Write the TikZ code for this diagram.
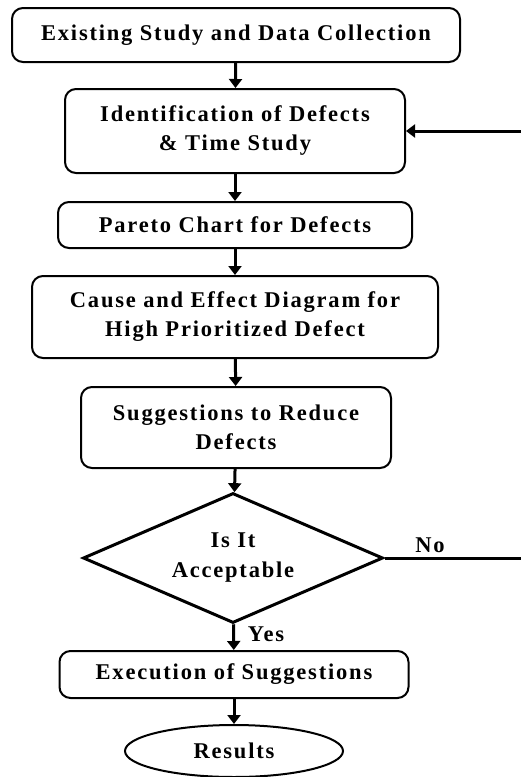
\documentclass[tikz,border=0pt]{standalone}
\usepackage{fontspec}
\setmainfont{Liberation Serif}[LetterSpace=8]
\usetikzlibrary{shapes.geometric,arrows.meta}

\begin{document}
\begin{tikzpicture}[x=1pt,y=-1pt,
    stepbox/.style={draw, rounded corners=11pt, line width=2pt, align=center,
      inner sep=0pt, font=\bfseries\fontsize{22.5}{29}\selectfont},
    decision/.style={draw, diamond, shape aspect=2.4, line width=3pt, align=center,
      inner sep=0pt, font=\bfseries\fontsize{22.5}{30}\selectfont},
    terminal/.style={draw, ellipse, line width=2pt, inner sep=0pt,
      font=\bfseries\fontsize{22.5}{29}\selectfont},
    flow/.style={line width=3pt, -{Triangle[length=9pt,width=13pt]}},
    answer/.style={font=\bfseries\fontsize{22.5}{24}\selectfont, inner sep=0pt}]

  \useasboundingbox (0,0) rectangle (520,777);

  \node[stepbox, minimum width=448pt, minimum height=54pt] (exist)  at (236,35)    {Existing Study and Data Collection};
  \node[stepbox, minimum width=340pt, minimum height=84pt] (ident)  at (235,131)   {Identification of Defects\\\& Time Study};
  \node[stepbox, minimum width=354pt, minimum height=46pt] (pareto) at (235,225)   {Pareto Chart for Defects};
  \node[stepbox, minimum width=406pt, minimum height=82pt] (cause)  at (235,317)   {Cause and Effect Diagram for\\High Prioritized Defect};
  \node[stepbox, minimum width=310pt, minimum height=81pt] (sugg)   at (236,427.5) {Suggestions to Reduce\\Defects};
  \node[decision, minimum width=300pt, minimum height=130pt] (accept) at (233,558) {Is It\\Acceptable};
  \node[stepbox, minimum width=349pt, minimum height=47pt] (exec)   at (234,674.5) {Execution of Suggestions};
  \node[terminal, minimum width=218pt, minimum height=52pt] (result) at (234,751)   {Results};

  \draw[flow] (exist)  -- (ident);
  \draw[flow] (ident)  -- (pareto);
  \draw[flow] (pareto) -- (cause);
  \draw[flow] (cause)  -- (sugg);
  \draw[flow] (sugg)   -- (accept);
  \draw[flow] (accept) -- (exec);
  \draw[flow] (exec)   -- (result);
  \draw[flow] (accept.east) -- ++(170,0) |- (ident.east);

  \node[answer] (no)  at (430,545) {No};
  \node[answer] (yes) at (266,634) {Yes};

\end{tikzpicture}
\end{document}
